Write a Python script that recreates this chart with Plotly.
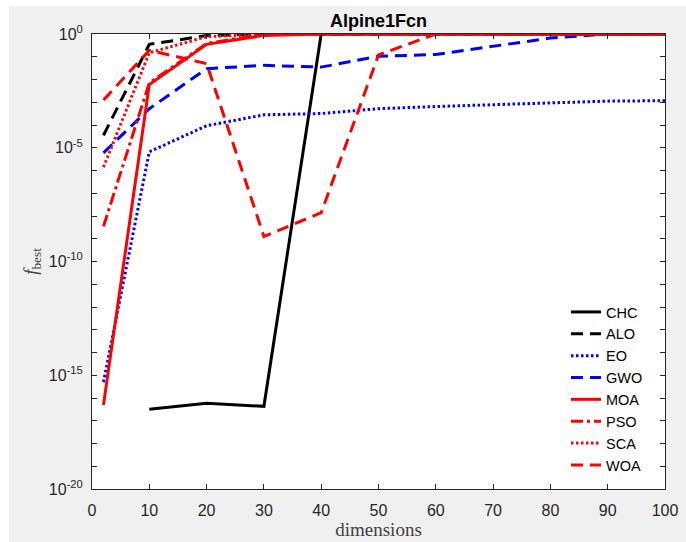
import plotly.graph_objects as go

# Best objective value found per problem dimension
dims = [2, 10, 20, 30, 40, 50, 60, 70, 80, 90, 100]

chc = [None, 3.2e-17, 5.9e-17, 4.3e-17, 1, 1, 1, 1, 1, 1, 1]
alo = [3.5e-5, 0.35, 0.85, 1, 1, 1, 1, 1, 1, 1, 1]
eo = [5.0e-16, 6.6e-6, 9.3e-5, 2.8e-4, 3.2e-4, 5.2e-4, 6.5e-4, 7.9e-4, 9.5e-4, 1.12e-3, 1.17e-3]
gwo = [6.0e-6, 5.2e-4, 0.030, 0.042, 0.035, 0.105, 0.126, 0.28, 0.66, 1, 1]
moa = [5.0e-17, 6.0e-3, 0.35, 0.87, 1, 1, 1, 1, 1, 1, 1]
pso = [3.5e-9, 7.1e-3, 0.38, 1, 1, 1, 1, 1, 1, 1, 1]
sca = [1.4e-6, 0.15, 0.76, 1, 1, 1, 1, 1, 1, 1, 1]
woa = [1.26e-3, 0.19, 0.05, 1.26e-9, 1.4e-8, 0.12, 1, 1, 1, 1, 1]

names = ["CHC", "ALO", "EO", "GWO", "MOA", "PSO", "SCA", "WOA"]
series = [chc, alo, eo, gwo, moa, pso, sca, woa]
colors = ["#000000", "#000000", "#0000ff", "#0000ff",
          "#ff0000", "#ff0000", "#ff0000", "#ff0000"]
dashes = ["solid", "12px,7px", "2.5px,2.5px", "12px,7px",
          "solid", "12px,4px,3px,4px", "2.5px,2.5px", "12px,7px"]

decades = list(range(-20, 1))
ytickvals = [10.0 ** d for d in decades]
yticktext = [f"10<sup>{d}</sup>" if d % 5 == 0 else "" for d in decades]
xticks = list(range(0, 101, 10))

W, H = 686, 542
L, R, T, B = 92, 21, 34, 53
pw, ph = W - L - R, H - T - B

fig = go.Figure()
for name, ys, c, d in zip(names, series, colors, dashes):
    fig.add_trace(go.Scatter(
        x=dims, y=ys, name=name, mode="lines",
        line=dict(color=c, width=3, dash=d),
        legendgroup=name,
    ))

axis_color = "#262626"
fig.update_layout(
    width=W, height=H,
    margin=dict(l=L, r=R, t=T, b=B),
    paper_bgcolor="#f0f0f0",
    plot_bgcolor="#ffffff",
    font=dict(family="Liberation Sans, Arial, sans-serif", size=16, color=axis_color),
    title=dict(text="<b>Alpine1Fcn</b>", x=(L + pw / 2) / W, xanchor="center",
               y=1 - 21 / H, yanchor="middle",
               font=dict(size=18, color="#000000")),
    xaxis=dict(
        range=[0, 100], tickvals=xticks, ticks="inside", ticklen=5,
        tickcolor=axis_color, showline=True, linecolor=axis_color, linewidth=1,
        mirror="ticks", showgrid=False, zeroline=False, ticklabelstandoff=7,
        automargin=False,
        title=dict(text="dimensions", standoff=1,
                   font=dict(family="Liberation Serif, Times New Roman, serif", size=19,
                             color="#404040")),
    ),
    yaxis=dict(
        type="log", range=[-20, 0], tickvals=ytickvals, ticktext=yticktext,
        ticks="inside", ticklen=5, tickcolor=axis_color, showline=True,
        linecolor=axis_color, linewidth=1, mirror="ticks", showgrid=False,
        zeroline=False, ticklabelstandoff=5, automargin=False,
        title=dict(text="<i>f</i><sub>best</sub>", standoff=6,
                   font=dict(family="Liberation Serif, Times New Roman, serif", size=19,
                             color="#404040")),
    ),
    legend=dict(
        x=(566 - L) / pw, xanchor="left",
        y=(H - B - 296) / ph, yanchor="top",
        bgcolor="rgba(255,255,255,0)", borderwidth=0,
        font=dict(size=14.5, color="#000000"),
        tracegroupgap=0,
    ),
    showlegend=True,
)

# thin white border around the grey figure area
fig.add_shape(type="rect", xref="paper", yref="paper",
              x0=-L / pw, x1=-(L - 9) / pw,
              y0=-B / ph, y1=1 + T / ph,
              fillcolor="#ffffff", line=dict(width=0), layer="above")
fig.add_shape(type="rect", xref="paper", yref="paper",
              x0=-L / pw, x1=1 + R / pw,
              y0=1 + (T - 6) / ph, y1=1 + T / ph,
              fillcolor="#ffffff", line=dict(width=0), layer="above")

fig.write_html("out.html")
